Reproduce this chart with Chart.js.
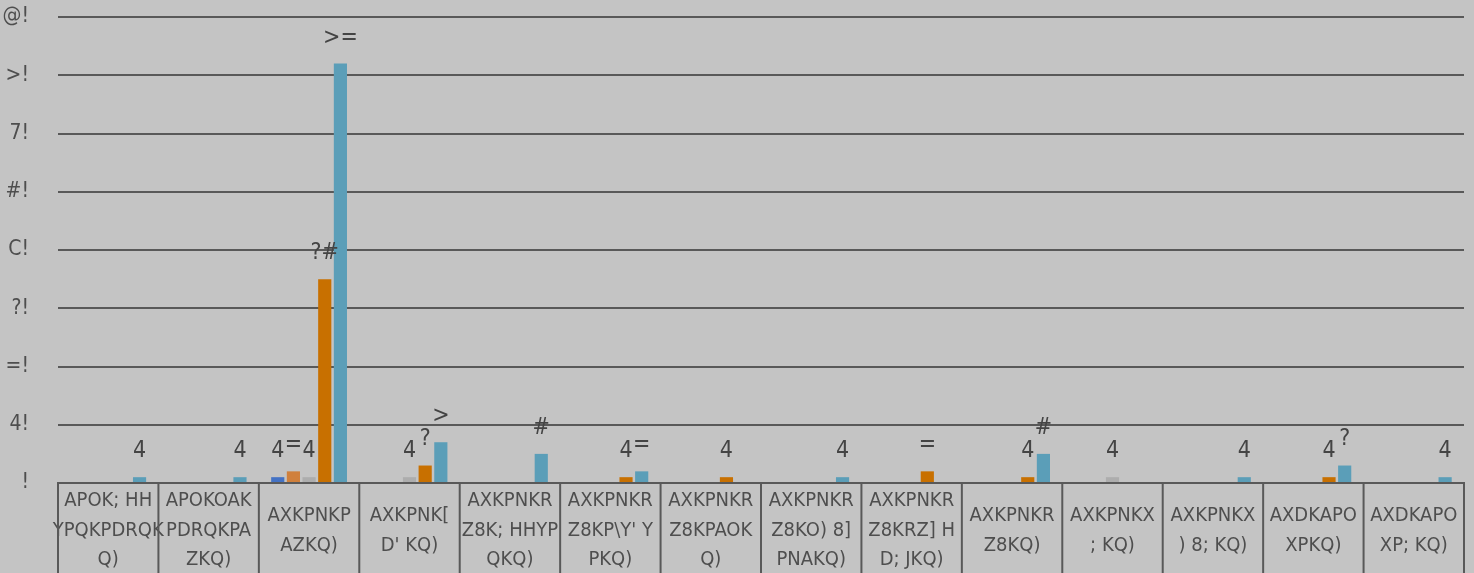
<!DOCTYPE html>
<html>
<head>
<meta charset="utf-8">
<script src="https://cdn.jsdelivr.net/npm/chart.js@4/dist/chart.umd.min.js"></script>
<style>
  html, body { margin: 0; padding: 0; background: #c4c4c4; }
  #wrap { position: relative; width: 1474px; height: 573px; }
</style>
</head>
<body>
<div id="wrap"><canvas id="chart"></canvas></div>
<script>
const categories = [
  ['APOK; HH', 'YPQKPDRQK', 'Q)'],
  ['APOKOAK', 'PDRQKPA', 'ZKQ)'],
  ['AXKPNKP', 'AZKQ)'],
  ['AXKPNK[', "D' KQ)"],
  ['AXKPNKR', 'Z8K; HHYP', 'QKQ)'],
  ['AXKPNKR', "Z8KP\\Y' Y", 'PKQ)'],
  ['AXKPNKR', 'Z8KPAOK', 'Q)'],
  ['AXKPNKR', 'Z8KO) 8]', 'PNAKQ)'],
  ['AXKPNKR', 'Z8KRZ] H', 'D; JKQ)'],
  ['AXKPNKR', 'Z8KQ)'],
  ['AXKPNKX', '; KQ)'],
  ['AXKPNKX', ') 8; KQ)'],
  ['AXDKAPO', 'XPKQ)'],
  ['AXDKAPO', 'XP; KQ)']
];

const series1 = [0, 0, 1, 0, 0, 0, 0, 0, 0, 0, 0, 0, 0, 0];
const series2 = [0, 0, 2, 0, 0, 0, 0, 0, 0, 0, 0, 0, 0, 0];
const series3 = [0, 0, 1, 1, 0, 0, 0, 0, 0, 0, 1, 0, 0, 0];
const series4 = [0, 0, 35, 3, 0, 1, 1, 0, 2, 1, 0, 0, 1, 0];
const series5 = [1, 1, 72, 7, 5, 2, 0, 1, 0, 5, 0, 1, 3, 1];

const yTickLabels = ['!', '4!', '=!', '?!', 'C!', '#!', '7!', '>!', '@!'];
// glyphs the picture shows for the digits 0..8
const digitGlyphs = ['!', '4', '=', '?', 'C', '#', '7', '>', '@'];

const FONT = "'Liberation Sans Narrow', 'DejaVu Sans Condensed', 'Liberation Sans', sans-serif";
const LINE = '#595959';
const TEXT = '#4e4e4e';

function glyphText(v) {
  return String(v).split('').map(d => digitGlyphs[+d]).join('');
}

const cellBorders = {
  id: 'cellBorders',
  afterDraw(chart) {
    const x = chart.scales.x;
    const ctx = chart.ctx;
    ctx.save();
    ctx.strokeStyle = LINE;
    ctx.lineWidth = 2;
    for (let i = 0; i <= categories.length; i++) {
      const px = x.getPixelForValue(i - 0.5);
      ctx.beginPath();
      ctx.moveTo(px, x.top);
      ctx.lineTo(px, chart.height);
      ctx.stroke();
    }
    ctx.restore();
  }
};

const valueLabels = {
  id: 'valueLabels',
  afterDatasetsDraw(chart) {
    const ctx = chart.ctx;
    ctx.save();
    ctx.font = '23px ' + FONT;
    ctx.fillStyle = '#444';
    ctx.textAlign = 'center';
    ctx.textBaseline = 'middle';
    chart.data.datasets.forEach((ds, di) => {
      chart.getDatasetMeta(di).data.forEach((bar, i) => {
        const v = ds.data[i];
        if (!v) return;
        ctx.fillText(glyphText(v), bar.x, bar.y - 26);
      });
    });
    ctx.restore();
  }
};

const colors = ['#4472c4', '#d0803c', '#adadad', '#c87000', '#5b9eb8'];
const allSeries = [series1, series2, series3, series4, series5];

function noPad(scale) {
  scale.paddingTop = 0;
  scale.paddingBottom = 0;
  scale.paddingLeft = 0;
  scale.paddingRight = 0;
}

new Chart(document.getElementById('chart'), {
  type: 'bar',
  data: {
    labels: categories,
    datasets: allSeries.map((data, i) => ({
      label: 'S' + (i + 1),
      data,
      backgroundColor: colors[i],
      borderWidth: 0,
      categoryPercentage: 0.78,
      barPercentage: 0.84,
    })),
  },
  options: {
    responsive: true,
    maintainAspectRatio: false,
    animation: false,
    layout: { padding: { top: 17, right: 10, left: 0, bottom: 0 } },
    plugins: { legend: { display: false }, tooltip: { enabled: false } },
    scales: {
      x: {
        grid: { display: false },
        border: { display: true, color: LINE, width: 2 },
        ticks: {
          color: TEXT,
          font: { family: FONT, size: 20, lineHeight: 1.48 },
          padding: 10,
          crossAlign: 'center',
          maxRotation: 0,
          autoSkip: false,
        },
        afterFit(scale) { scale.height = 90; noPad(scale); },
      },
      y: {
        min: 0,
        max: 80,
        ticks: {
          stepSize: 10,
          color: TEXT,
          padding: 29,
          font: { family: FONT, size: 21 },
          callback: (v) => yTickLabels[v / 10],
        },
        grid: { color: LINE, lineWidth: 2, drawTicks: false },
        border: { display: false },
        afterFit(scale) { scale.width = 58; noPad(scale); },
      },
    },
  },
  plugins: [cellBorders, valueLabels],
});
</script>
</body>
</html>
